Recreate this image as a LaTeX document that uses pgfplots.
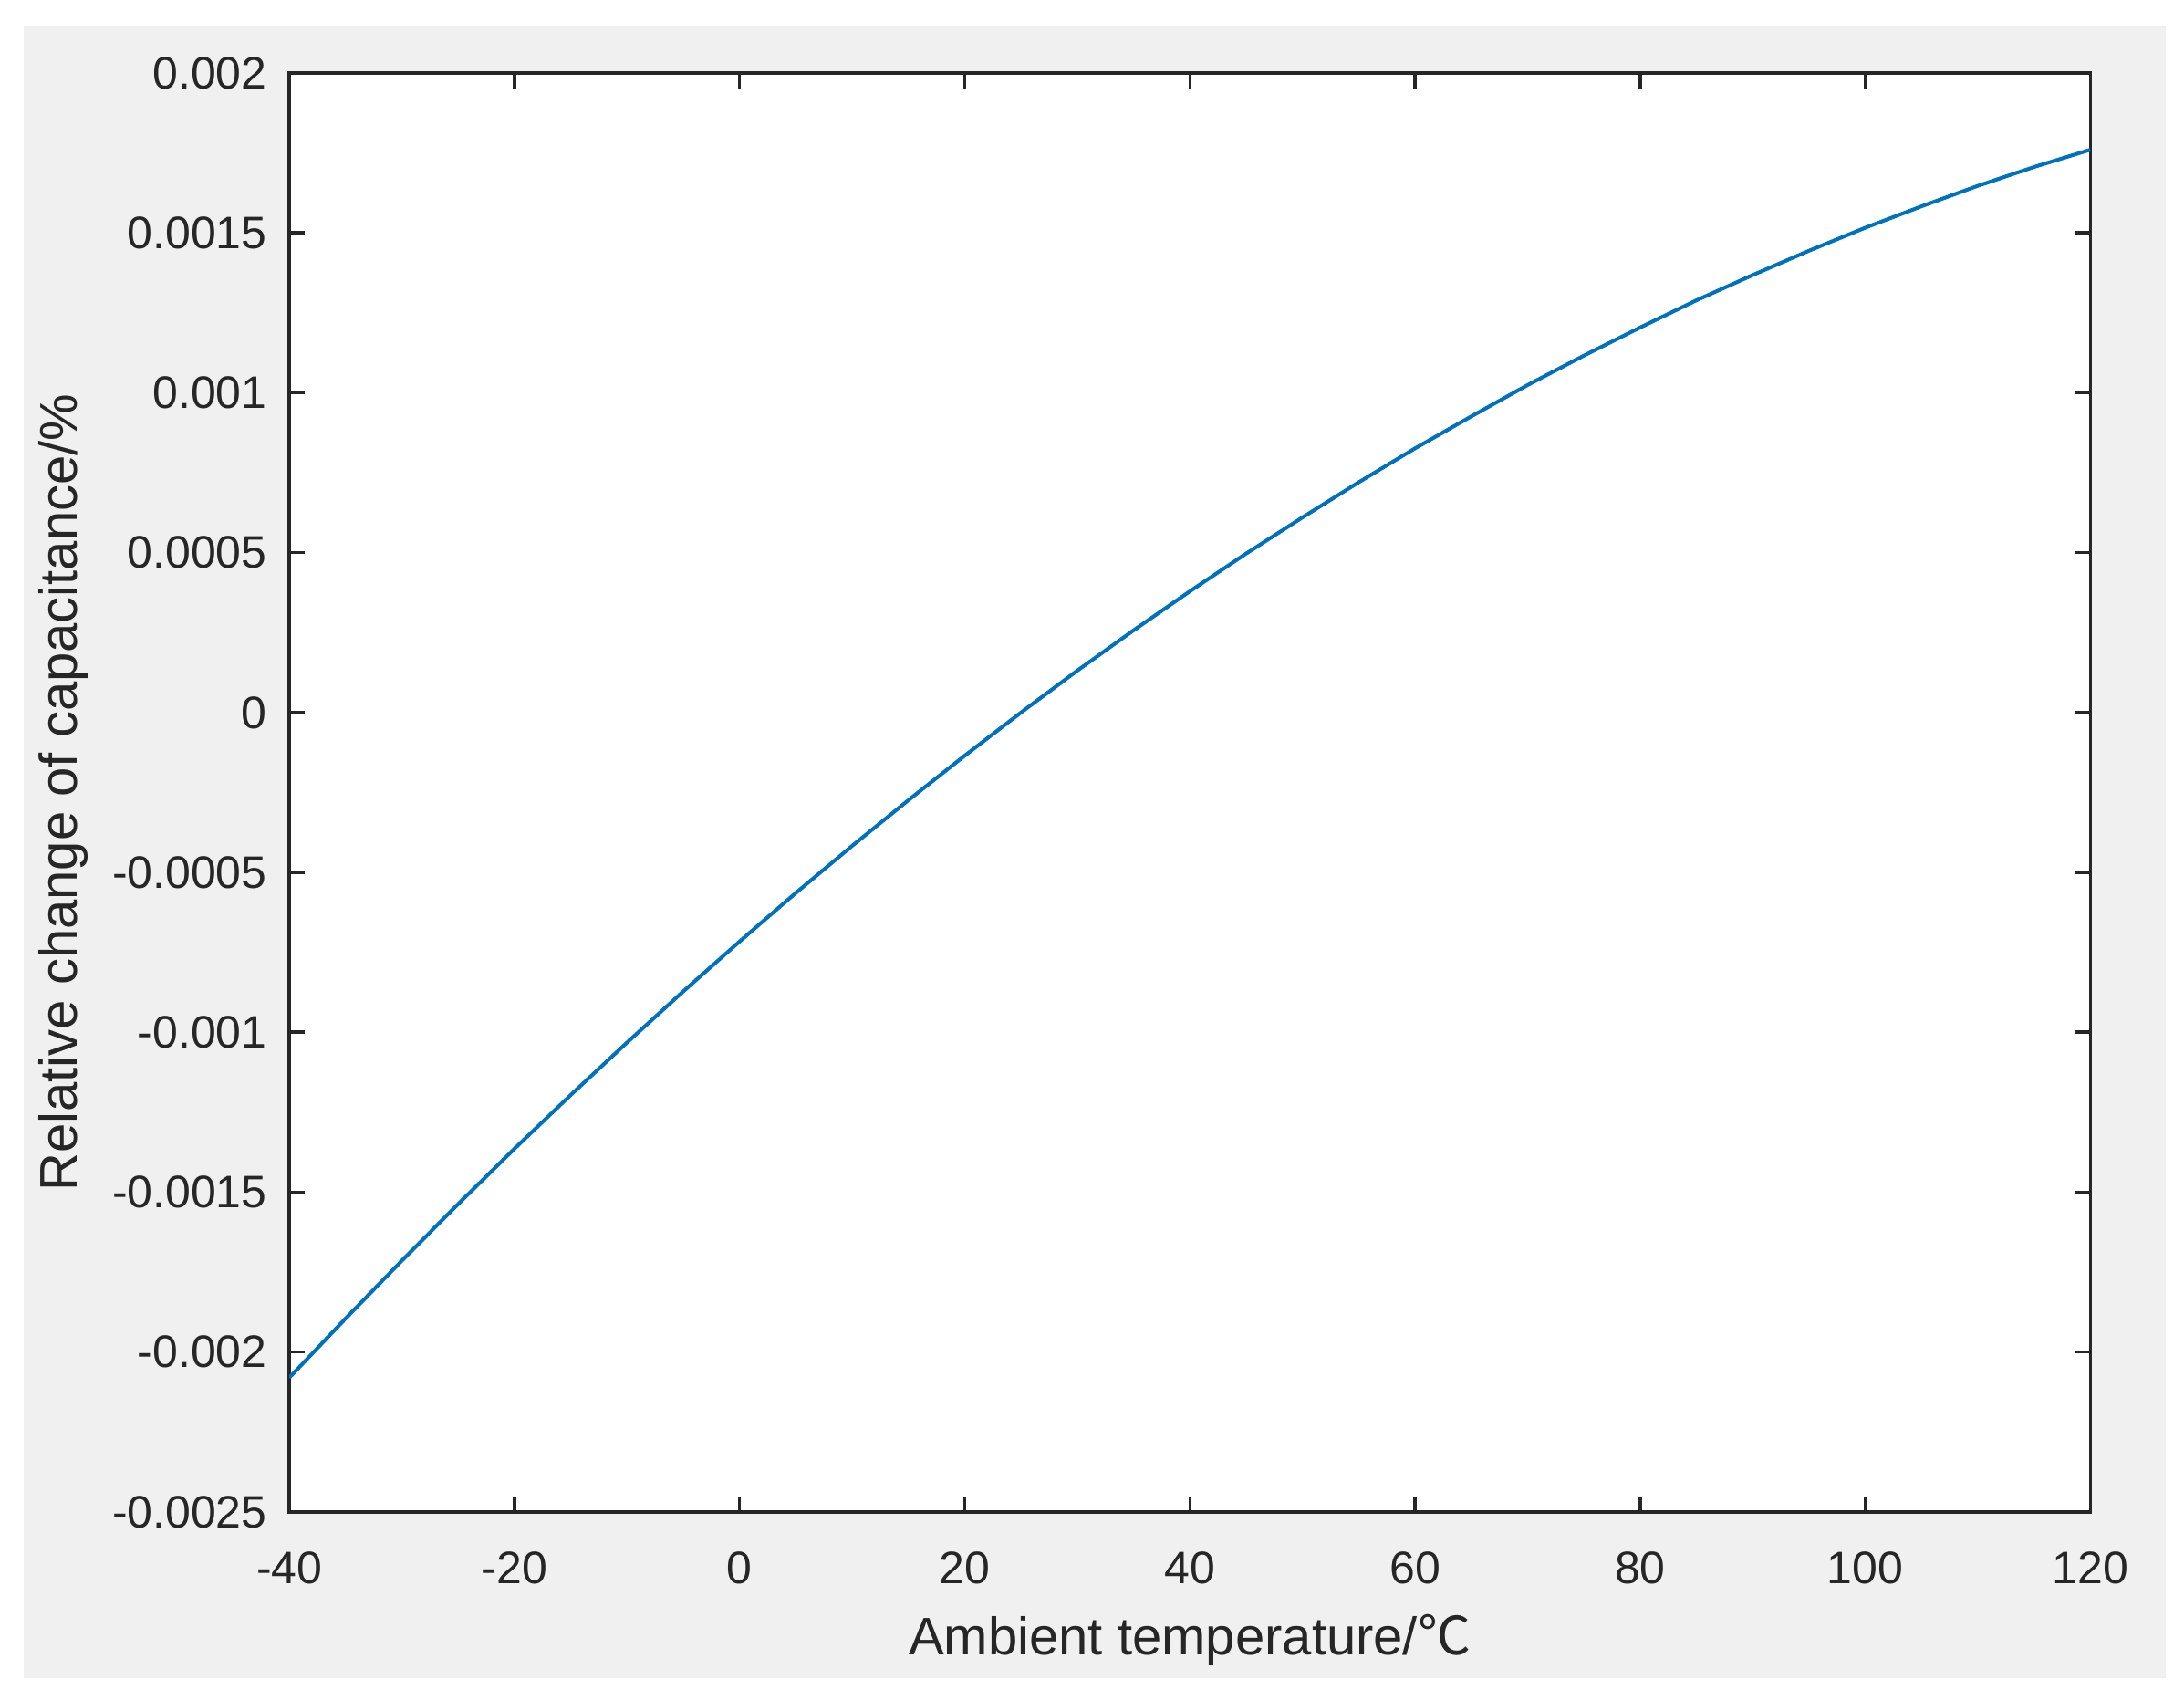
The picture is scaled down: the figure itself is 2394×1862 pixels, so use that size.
\documentclass[border=0pt]{standalone}
\usepackage{fontspec}
\setmainfont{Liberation Sans}
\newfontfamily\cjk{Noto Sans CJK SC}
\usepackage{pgfplots}
\pgfplotsset{compat=1.18}
\definecolor{mblue}{RGB}{0,114,189}
\definecolor{mgray}{RGB}{240,240,240}
\definecolor{mdark}{RGB}{38,38,38}
\begin{document}
\begin{tikzpicture}[x=0.01cm,y=0.01cm]
  % figure background (white margin, grey panel)
  \fill[white] (0,0) rectangle (2394,1862);
  \fill[mgray] (26,23) rectangle (2374,1834);
  \begin{axis}[
    at={(3.17cm,2.05cm)}, anchor=south west,
    scale only axis, width=19.73cm, height=15.76cm,
    axis background/.style={fill=white},
    xmin=-40, xmax=120, ymin=-0.0025, ymax=0.002,
    xtick={-40,-20,0,20,40,60,80,100,120},
    xticklabels={-40,-20,0,20,40,60,80,100,120},
    ytick={-0.0025,-0.002,-0.0015,-0.001,-0.0005,0,0.0005,0.001,0.0015,0.002},
    yticklabels={-0.0025,-0.002,-0.0015,-0.001,-0.0005,0,0.0005,0.001,0.0015,0.002},
    scaled y ticks=false, scaled x ticks=false,
    tick align=inside, major tick length=0.17cm,
    axis line style={mdark, line width=1pt},
    every tick/.style={mdark, line width=1pt},
    tick label style={mdark, font=\fontsize{14.2}{16}\selectfont},
    xticklabel style={anchor=center, inner sep=0pt, yshift=-0.61cm},
    yticklabel style={anchor=east, inner sep=0pt, xshift=-0.24cm},
    label style={mdark, font=\fontsize{16.5}{19}\selectfont},
    xlabel={Ambient temperature/{\cjk ℃}},
    xlabel style={at={(axis description cs:0.5,-0.0888)}, anchor=center},
    ylabel={Relative change of capacitance/\%},
    ylabel style={at={(axis description cs:-0.1257,0.5)}, anchor=center},
  ]
  \addplot[mblue, line width=1.15pt] coordinates {
    (-40,-0.002080) (-35,-0.001895) (-30,-0.001714) (-25,-0.001537)
    (-20,-0.001364) (-15,-0.001196) (-10,-0.001032) (-5,-0.000872)
    (0,-0.000716) (5,-0.000564) (10,-0.000417) (15,-0.000274)
    (20,-0.000135) (25,0.000000) (30,0.000131) (35,0.000257)
    (40,0.000379) (45,0.000497) (50,0.000610) (55,0.000720)
    (60,0.000826) (65,0.000926) (70,0.001024) (75,0.001116)
    (80,0.001204) (85,0.001289) (90,0.001368) (95,0.001444)
    (100,0.001516) (105,0.001583) (110,0.001647) (115,0.001706)
    (120,0.001760)
  };
  \end{axis}
\end{tikzpicture}
\end{document}
